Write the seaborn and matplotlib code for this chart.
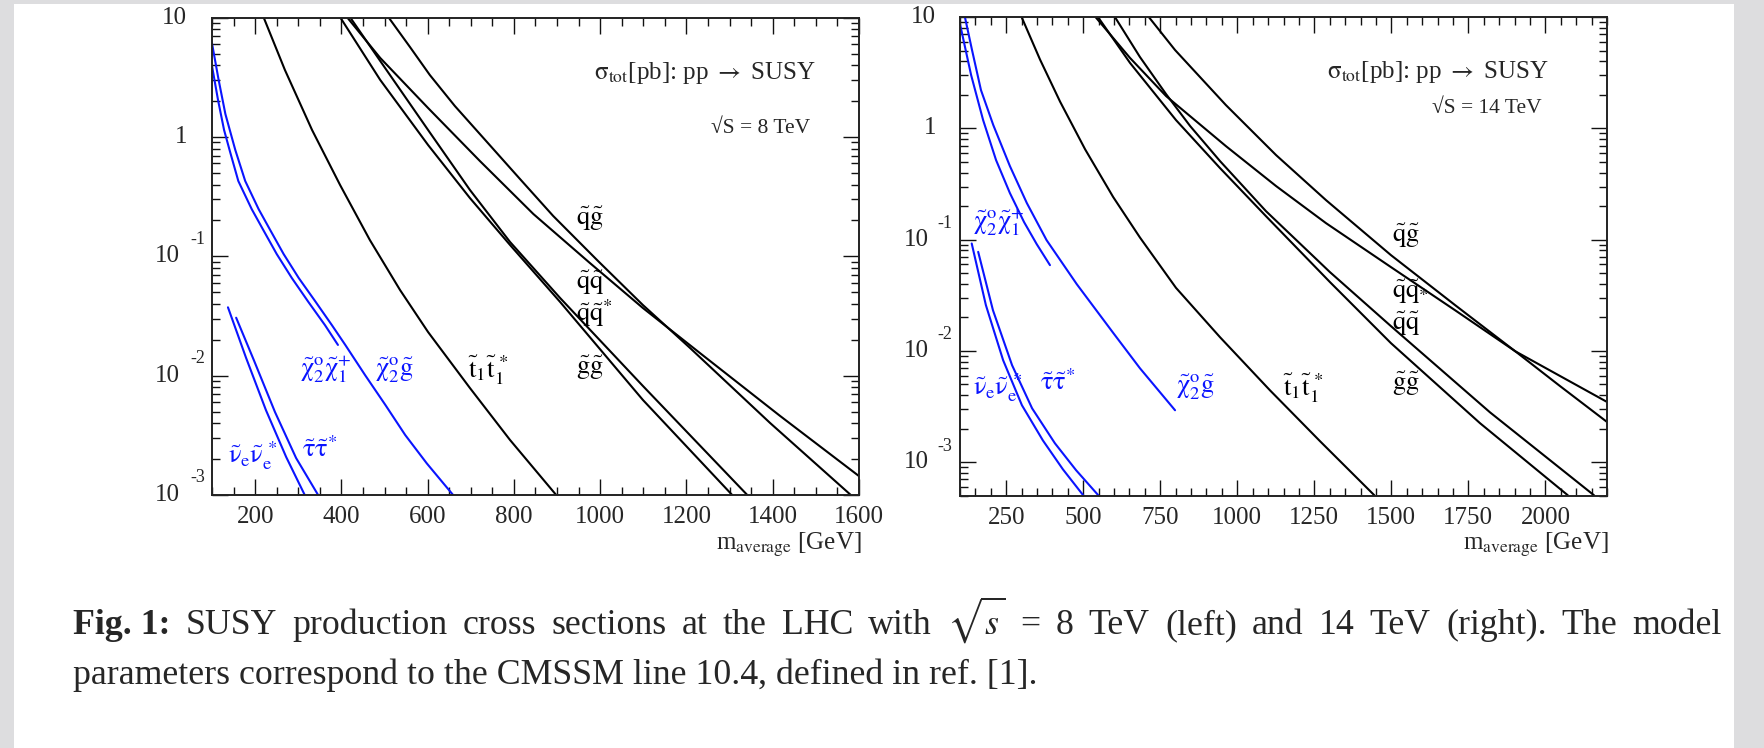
import numpy as np
import matplotlib
matplotlib.use("Agg")
import matplotlib.pyplot as plt
import seaborn as sns
from matplotlib.ticker import FixedLocator, MultipleLocator, LogLocator, NullFormatter, FixedFormatter
from matplotlib.transforms import offset_copy, blended_transform_factory
from matplotlib.patches import Rectangle

# ---------------- data: sqrt(S) = 8 TeV ----------------
m8_qg = [509, 559, 605, 663, 721, 814, 891, 995, 1099, 1208, 1394, 1581]
s8_qg = [10.1, 5.68, 3.31, 1.82, 1.06, 0.445, 0.218, 0.0914, 0.0391, 0.0171, 0.00401, 0.0010]
m8_qq = [413, 490, 601, 721, 845, 976, 1099, 1231, 1417, 1600]
s8_qq = [10.1, 4.60, 1.75, 0.630, 0.2265, 0.0880, 0.0369, 0.0155, 0.0046, 0.00144]
m8_qqbar = [420, 490, 601, 698, 791, 907, 1099, 1341]
s8_qqbar = [10.1, 4.34, 1.145, 0.360, 0.132, 0.0448, 0.0082, 0.0010]
m8_gg = [397, 490, 601, 698, 791, 907, 1099, 1306]
s8_gg = [10.1, 3.01, 0.857, 0.308, 0.1245, 0.0415, 0.00626, 0.0010]
m8_tt = [220, 269, 332, 397, 466, 536, 601, 698, 791, 898]
s8_tt = [10.0, 3.65, 1.145, 0.396, 0.137, 0.0522, 0.0232, 0.00788, 0.00289, 0.0010]
m8_n2g = [100, 115, 131, 154, 177, 208, 235, 266, 301, 340, 378, 409, 455, 502, 548, 598, 659]
s8_n2g = [6.1, 3.06, 1.56, 0.779, 0.428, 0.249, 0.166, 0.1046, 0.0659, 0.0417, 0.0265, 0.0181,
          0.0101, 0.00568, 0.00318, 0.00184, 0.0010]
m8_n2c1 = [100, 114, 128, 142, 161, 192, 219, 250, 285, 323, 362, 392]
s8_n2c1 = [3.94, 2.04, 1.145, 0.749, 0.428, 0.249, 0.166, 0.1046, 0.0659, 0.0417, 0.0265, 0.0181]
m8_snu = [137, 179, 225, 272, 315]
s8_snu = [0.0374, 0.0141, 0.00515, 0.00208, 0.0010]
m8_stau = [156, 197, 246, 295, 346]
s8_stau = [0.0306, 0.0135, 0.00496, 0.00204, 0.0010]

# ---------------- data: sqrt(S) = 14 TeV ----------------
m14_qg = [713, 798, 963, 1126, 1288, 1499, 1707, 1902, 2048, 2200]
s14_qg = [10.0, 5.06, 1.62, 0.575, 0.2265, 0.0725, 0.0258, 0.00994, 0.00482, 0.0023]
m14_qq = [540, 652, 769, 963, 1126, 1288, 1499, 1707, 1902, 2200]
s14_qq = [10.0, 4.29, 1.95, 0.693, 0.303, 0.1407, 0.0566, 0.0232, 0.00994, 0.00348]
m14_qqbar = [603, 684, 769, 847, 944, 1093, 1301, 1499, 1820, 2158]
s14_qqbar = [10.0, 4.38, 2.03, 1.049, 0.508, 0.1805, 0.0510, 0.01668, 0.00281, 0.000504]
m14_gg = [548, 652, 801, 944, 1093, 1301, 1499, 1788, 2073]
s14_gg = [10.0, 3.87, 1.188, 0.4395, 0.1627, 0.0415, 0.01173, 0.00224, 0.000504]
m14_tt = [300, 360, 425, 506, 597, 684, 801, 944, 1106, 1269, 1445]
s14_tt = [10.0, 4.14, 1.735, 0.649, 0.242, 0.1046, 0.0369, 0.01328, 0.00443, 0.00154, 0.000504]
m14_n2g = [116, 139, 168, 208, 262, 317, 381, 479, 598, 684, 798]
s14_n2g = [10.0, 5.06, 2.21, 1.071, 0.458, 0.213, 0.099, 0.0398, 0.01443, 0.00699, 0.00293]
m14_n2c1 = [100, 136, 175, 217, 262, 308, 349, 392]
s14_n2c1 = [8.67, 3.02, 1.188, 0.519, 0.262, 0.1437, 0.0911, 0.059]
m14_snu = [138, 184, 240, 301, 369, 434, 500]
s14_snu = [0.0924, 0.0258, 0.00825, 0.00325, 0.00157, 0.000863, 0.000504]
m14_stau = [159, 207, 269, 334, 408, 477, 549]
s14_stau = [0.0777, 0.0232, 0.00744, 0.00305, 0.00148, 0.000846, 0.000504]

# tick labels
xt8 = [200, 400, 600, 800, 1000, 1200, 1400, 1600]
xt14 = [250, 500, 750, 1000, 1250, 1500, 1750, 2000]

# labels
L_QG = r'$\tilde{\mathrm{q}}\tilde{\mathrm{g}}$'
L_QQ = r'$\tilde{\mathrm{q}}\tilde{\mathrm{q}}$'
L_QQS = r'$\tilde{\mathrm{q}}\tilde{\mathrm{q}}^{*}$'
L_QQsub = r'$\tilde{\mathrm{q}}\tilde{\mathrm{q}}_{*}$'
L_GG = r'$\tilde{\mathrm{g}}\tilde{\mathrm{g}}$'
L_TT = r'$\tilde{\mathrm{t}}_{1}\tilde{\mathrm{t}}_{1}^{\,*}$'
L_N2C1 = r'$\tilde{\mathrm{\chi}}^{\mathrm{o}}_{2}\tilde{\mathrm{\chi}}^{+}_{1}$'
L_N2G = r'$\tilde{\mathrm{\chi}}^{\mathrm{o}}_{2}\tilde{\mathrm{g}}$'
L_SNU = r'$\tilde{\mathrm{\nu}}_{\mathrm{e}}\tilde{\mathrm{\nu}}_{\mathrm{e}}^{\,*}$'
L_STAU = r'$\tilde{\mathrm{\tau}}\tilde{\mathrm{\tau}}^{*}$'
L_HEAD = r'$\mathrm{\sigma_{tot}}$[pb]: pp $\rightarrow$ SUSY'

# ---------------- style ----------------
sns.set_theme(style="ticks")
plt.rcParams['font.family'] = ['Liberation Serif', 'DejaVu Serif']
plt.rcParams['mathtext.fontset'] = 'stix'

BLUE = '#0a14ff'
W, H = 1765, 748
fig = plt.figure(figsize=(W / 100, H / 100), dpi=100)
fig.patch.set_facecolor('#dddddf')
fig.add_artist(Rectangle((14 / W, 0), (1734 - 14) / W, 744 / H, transform=fig.transFigure,
                         facecolor='white', edgecolor='none', zorder=-10))

ax1 = fig.add_axes([212 / W, 1 - 495 / H, 647 / W, 477.3 / H])
ax2 = fig.add_axes([960 / W, 1 - 495.7 / H, 647 / W, 478.6 / H])


def draw(ax, black, blue):
    for m, s in black:
        sns.lineplot(x=m, y=s, ax=ax, color='black', lw=1.5, estimator=None, sort=False, legend=False)
    for m, s in blue:
        sns.lineplot(x=m, y=s, ax=ax, color=BLUE, lw=1.5, estimator=None, sort=False, legend=False)


draw(ax1, [(m8_qg, s8_qg), (m8_qq, s8_qq), (m8_qqbar, s8_qqbar), (m8_gg, s8_gg), (m8_tt, s8_tt)],
     [(m8_n2g, s8_n2g), (m8_n2c1, s8_n2c1), (m8_snu, s8_snu), (m8_stau, s8_stau)])
draw(ax2, [(m14_qg, s14_qg), (m14_qq, s14_qq), (m14_qqbar, s14_qqbar), (m14_gg, s14_gg), (m14_tt, s14_tt)],
     [(m14_n2g, s14_n2g), (m14_n2c1, s14_n2c1), (m14_snu, s14_snu), (m14_stau, s14_stau)])


def style_axes(ax, xlim, ylim, xticks, ylab, plain_dx, ten_dx, exp_dx, exp_dy):
    ax.set_yscale('log')
    ax.set_xlim(*xlim)
    ax.set_ylim(*ylim)
    ax.set_xlabel('')
    ax.set_ylabel('')
    ax.xaxis.set_major_locator(FixedLocator(xticks))
    ax.xaxis.set_major_formatter(FixedFormatter([str(v) for v in xticks]))
    ax.xaxis.set_minor_locator(MultipleLocator(50))
    ax.yaxis.set_major_locator(LogLocator(base=10, numticks=20))
    ax.yaxis.set_minor_locator(LogLocator(base=10, subs=np.arange(2, 10), numticks=30))
    ax.yaxis.set_major_formatter(NullFormatter())
    ax.yaxis.set_minor_formatter(NullFormatter())
    ax.tick_params(which='both', direction='in', top=True, right=True, width=1.0, color='#111111')
    ax.tick_params(which='major', length=11.5)
    ax.tick_params(which='minor', length=5.5)
    ax.tick_params(axis='x', which='major', labelsize=18, pad=8)
    for sp in ax.spines.values():
        sp.set_linewidth(1.4)
        sp.set_color('#222222')
    trans = blended_transform_factory(ax.transAxes, ax.transData)
    for v, txt, ex in ylab:
        if ex is None:
            ax.text(0, v, txt, transform=offset_copy(trans, fig=fig, x=plain_dx, y=0, units='dots'),
                    ha='right', va='center', fontsize=18)
        else:
            ax.text(0, v, txt, transform=offset_copy(trans, fig=fig, x=ten_dx, y=0, units='dots'),
                    ha='right', va='center', fontsize=18)
            ax.text(0, v, ex, transform=offset_copy(trans, fig=fig, x=exp_dx, y=exp_dy, units='dots'),
                    ha='left', va='center', fontsize=13)


ylab = [(10, '10', None), (1, '1', None), (0.1, '10', '-1'), (0.01, '10', '-2'), (0.001, '10', '-3')]
style_axes(ax1, (100, 1600), (1e-3, 10), xt8, ylab, -25, -32, -22, 17)
style_axes(ax2, (100, 2200), (5e-4, 10), xt14, ylab, -24, -31, -23, 16)

# x-axis titles
for ax, xr, yb in [(ax1, 1.0046, -0.115), (ax2, 1.003, -0.1135)]:
    ax.text(xr, yb, r'm$_{\mathrm{average}}$ [GeV]', transform=ax.transAxes,
            ha='right', va='baseline', fontsize=18)

# headers
ax1.text(0.9335, 0.884, L_HEAD, transform=ax1.transAxes, ha='right', va='center', fontsize=18)
ax1.text(0.9243, 0.767, '√S = 8 TeV', transform=ax1.transAxes, ha='right', va='center', fontsize=15.5)
ax2.text(0.9104, 0.885, L_HEAD, transform=ax2.transAxes, ha='right', va='center', fontsize=18)
ax2.text(0.8995, 0.810, '√S = 14 TeV', transform=ax2.transAxes, ha='right', va='center', fontsize=15.5)

# curve labels (axes fractions)
lab8 = [(L_QG, 0.5626, 0.578, 'black'), (L_QQ, 0.5626, 0.444, 'black'), (L_QQS, 0.5626, 0.381, 'black'),
        (L_GG, 0.5626, 0.266, 'black'), (L_TT, 0.3957, 0.262, 'black'),
        (L_N2C1, 0.136, 0.264, BLUE), (L_N2G, 0.2519, 0.262, BLUE),
        (L_SNU, 0.0247, 0.082, BLUE), (L_STAU, 0.1391, 0.096, BLUE)]
lab14 = [(L_QG, 0.6677, 0.5426, 'black'), (L_QQsub, 0.6677, 0.4257, 'black'), (L_QQ, 0.6677, 0.3588, 'black'),
         (L_GG, 0.6677, 0.233, 'black'), (L_TT, 0.4992, 0.225, 'black'),
         (L_N2G, 0.3338, 0.227, BLUE), (L_N2C1, 0.0201, 0.572, BLUE),
         (L_SNU, 0.0201, 0.225, BLUE), (L_STAU, 0.1236, 0.2375, BLUE)]
for ax, labs in [(ax1, lab8), (ax2, lab14)]:
    for s, x, y, c in labs:
        ax.text(x, y, s, transform=ax.transAxes, ha='left', va='center', fontsize=19, color=c)

# ---------------- caption (justified first line) ----------------
fig.canvas.draw()
renderer = fig.canvas.get_renderer()


def width_of(s, **kw):
    t = fig.text(0, 0, s, **kw)
    w = t.get_window_extent(renderer).width
    t.remove()
    return w


line2 = 'parameters correspond to the CMSSM line 10.4, defined in ref. [1].'
fs = 22 * 960 / width_of(line2, fontsize=22)
fig.text(73 / W, 1 - 684 / H, line2, fontsize=fs, ha='left', va='baseline')

tokens = [('Fig. 1:', 'bold'), ('SUSY', 'normal'), ('production', 'normal'), ('cross', 'normal'),
          ('sections', 'normal'), ('at', 'normal'), ('the', 'normal'), ('LHC', 'normal'),
          ('with', 'normal'), (r'$\sqrt{s}$', 'normal'), ('=', 'normal'), ('8', 'normal'),
          ('TeV', 'normal'), ('(left)', 'normal'), ('and', 'normal'), ('14', 'normal'),
          ('TeV', 'normal'), ('(right).', 'normal'), ('The', 'normal'), ('model', 'normal')]
widths = [width_of(t, fontsize=fs, fontweight=wt) for t, wt in tokens]
x0, x1 = 73, 1722
gap = (x1 - x0 - sum(widths)) / (len(tokens) - 1)
x = x0
for (t, wt), w in zip(tokens, widths):
    fig.text(x / W, 1 - 634 / H, t, fontsize=fs, fontweight=wt, ha='left', va='baseline')
    x += w + gap

fig.savefig('out.png', dpi=100)
